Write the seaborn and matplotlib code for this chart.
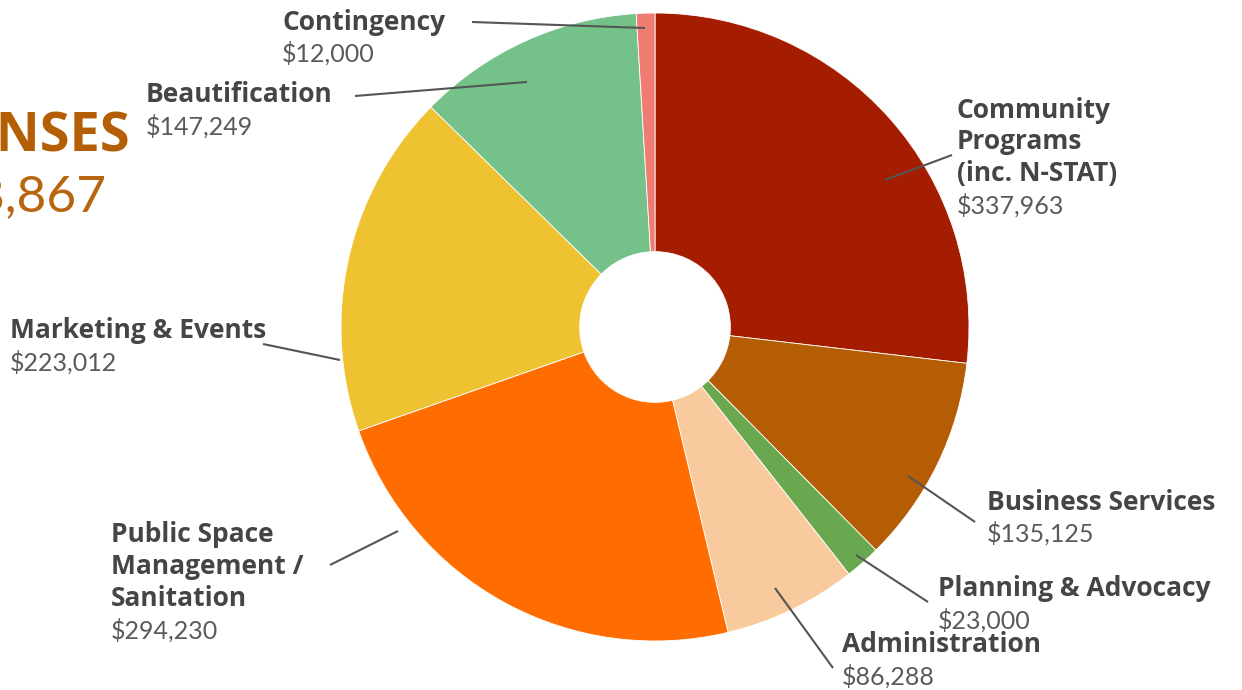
import matplotlib
matplotlib.use("Agg")
import matplotlib.pyplot as plt
import seaborn as sns

sns.set_theme(style="white")
plt.rcParams['font.family'] = ['Lato', 'DejaVu Sans']

# ---- data ----
categories = ["Community\nPrograms\n(inc. N-STAT)", "Business Services", "Planning & Advocacy",
              "Administration", "Public Space\nManagement /\nSanitation", "Marketing & Events",
              "Beautification", "Contingency"]
values = [337963, 135125, 23000, 86288, 294230, 223012, 147249, 12000]
value_labels = ["$337,963", "$135,125", "$23,000", "$86,288", "$294,230", "$223,012",
                "$147,249", "$12,000"]
colors = ["#A51D00", "#B45D05", "#6AA84F", "#F8CA9D", "#FF6D01", "#EFC232", "#74C28A", "#EF7B72"]
title_text = "EXPENSES"
total_text = "$" + format(sum(values), ",")

W, H = 1242, 690
fig = plt.figure(figsize=(W / 100, H / 100), dpi=100)
ax = fig.add_axes([0, 0, 1, 1])

cx, cy, R = 655, H - 327, 314
ax.pie(values, colors=colors, startangle=90, counterclock=False, center=(cx, cy), radius=R,
       wedgeprops=dict(width=R * 0.76, edgecolor='white', linewidth=0.6), frame=True)
ax.set_xlim(0, W)
ax.set_ylim(0, H)
ax.set_aspect('equal')
ax.axis('off')

def py(y):
    return H - y

dark = "#454545"
light = "#5a5a5a"
bold_family = ['Open Sans', 'DejaVu Sans']
# label layout: (x, first line center y, leader line start, leader line end)
layout = [
    (957, 110, (885, 180), (952, 155)),
    (987, 502, (908, 476), (975, 522)),
    (938, 589, (856, 555), (928, 602)),
    (842, 645, (775, 588), (833, 668)),
    (111, 535, (398, 531), (330, 565)),
    (10, 331, (340, 360), (263, 344)),
    (146, 95, (527, 82), (355, 96)),
    (282, 22, (645, 28), (472, 22)),
]
lh = 31.7
for cat, val, (x, y0, p1, p2) in zip(categories, value_labels, layout):
    lines = cat.split("\n")
    for i, ln in enumerate(lines):
        ax.text(x, py(y0 + i * lh), ln, fontsize=19, fontweight='bold', color=dark,
                family=bold_family, ha='left', va='center')
    ax.text(x, py(y0 + len(lines) * lh), val, fontsize=18, fontweight='normal', color=light,
            ha='left', va='center')
    ax.plot([p1[0], p2[0]], [py(p1[1]), py(p2[1])], color="#555555", lw=1.5,
            solid_capstyle='butt')

ax.text(130, py(138), title_text, fontsize=39, fontweight='bold', color="#B45F06",
        family=bold_family, ha='right', va='center')
ax.text(106, py(197), total_text, fontsize=37, fontweight='normal', color="#B8650F",
        ha='right', va='center')

fig.savefig("out.png", dpi=100)
